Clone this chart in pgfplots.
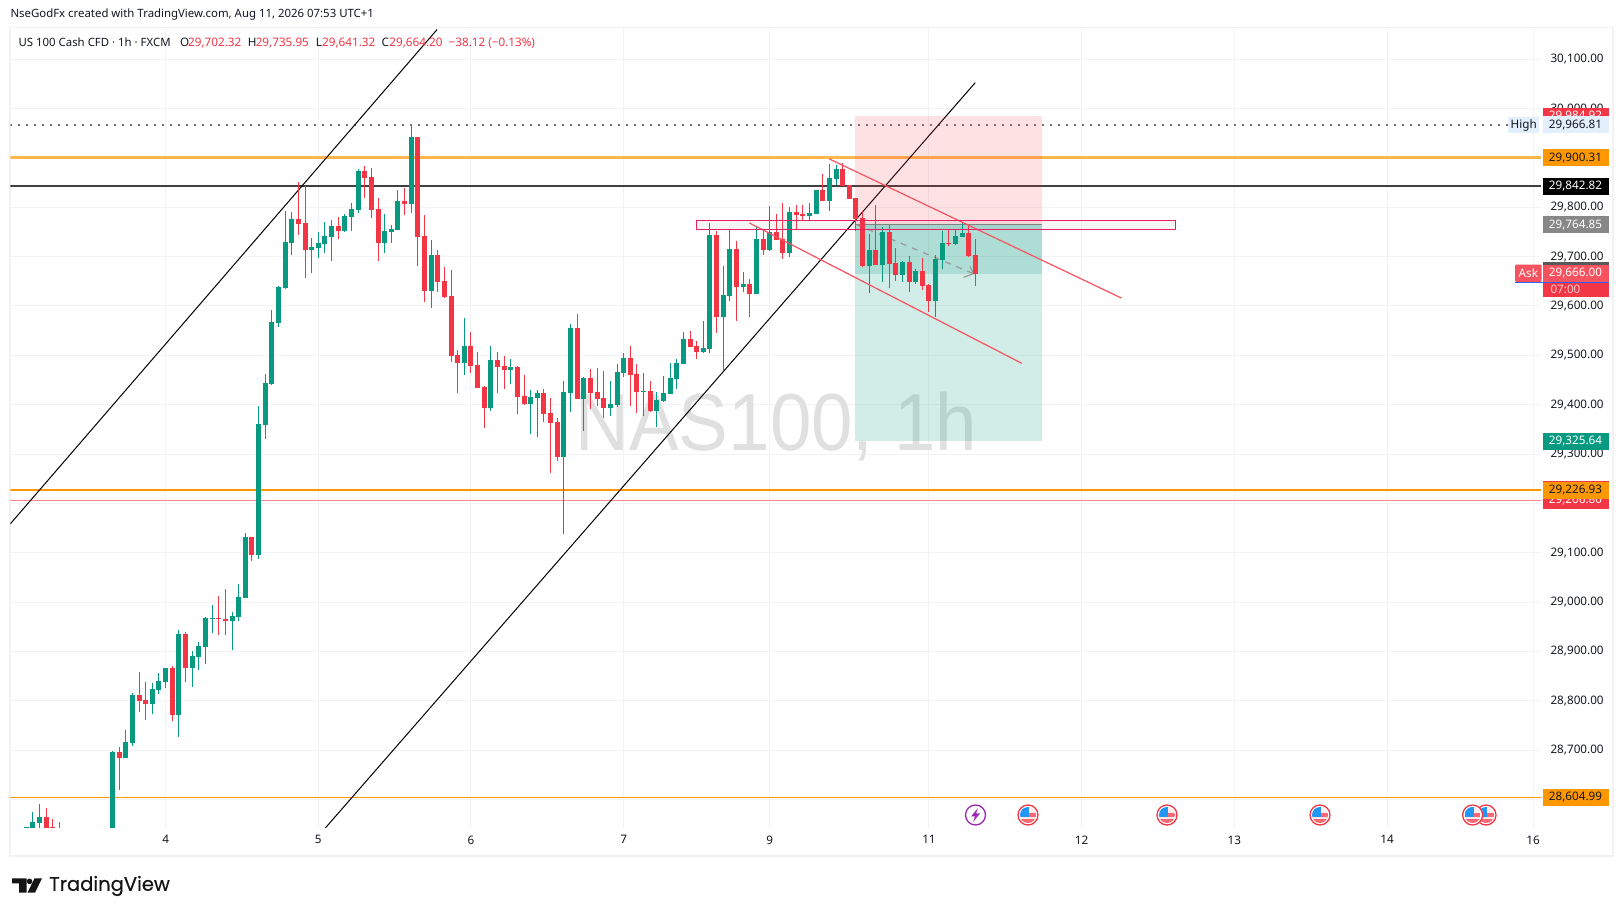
\documentclass[border=0pt]{standalone}
\usepackage{pgfplots}
\usepackage{pgfplotstable}
\usepackage{fontspec}
\pgfplotsset{compat=1.18}
\setmainfont{Noto Sans}
\newfontfamily\logofont[FakeBold=0.35]{Poppins}
\newfontfamily\wmfont{Liberation Sans}
\definecolor{up}{HTML}{089981}
\definecolor{dn}{HTML}{F23645}
\definecolor{gridc}{HTML}{F3F3F3}
\definecolor{framec}{HTML}{F2F2F2}
\definecolor{txt}{HTML}{131722}
\definecolor{orangeA}{HTML}{FF9800}
\definecolor{orangeL}{HTML}{FFB74D}
\definecolor{pinkl}{HTML}{F7525F}
\definecolor{pinkt}{HTML}{FF858F}
\definecolor{zone}{HTML}{E91E63}
\definecolor{hib}{HTML}{E3EFFD}
\definecolor{flagblue}{HTML}{2196F3}
\definecolor{askblue}{HTML}{2962FF}
\definecolor{bolt}{HTML}{9C27B0}
\newcommand\fnt{\fontsize{11.7}{14}\selectfont}
\newcommand\hfnt{\fontsize{11.4}{14}\selectfont}
% i open high low close
\pgfplotstableread{
i o h l c
-21 28500 28545 28480 28544
-20 28500 28575 28490 28555
-19 28553 28591 28530 28565
-8 28500 28698 28490 28697
-6 28684 28741 28684 28716
-5 28715 28816 28709 28812
-2 28793 28836 28773 28824
-1 28822 28856 28814 28840
0 28838 28866 28826 28866
2 28771 28943 28727 28935
4 28866 28901 28828 28891
5 28889 28919 28862 28911
6 28909 28970 28875 28968
7 28966 28994 28937 28968
10 28962 28980 28903 28972
11 28970 29037 28962 29010
12 29008 29140 29008 29132
14 29095 29397 29087 29360
15 29358 29462 29330 29443
16 29442 29592 29440 29567
17 29565 29640 29557 29638
18 29636 29792 29634 29729
19 29727 29790 29703 29776
22 29713 29737 29666 29719
23 29717 29749 29697 29727
24 29725 29770 29707 29741
25 29739 29774 29691 29762
27 29751 29786 29749 29782
28 29780 29808 29751 29796
29 29794 29877 29788 29873
33 29727 29786 29707 29751
34 29749 29764 29727 29755
35 29753 29836 29753 29812
37 29806 29967 29788 29942
40 29630 29733 29596 29703
45 29484 29576 29460 29519
49 29393 29519 29387 29490
52 29470 29493 29442 29476
55 29402 29430 29341 29416
56 29414 29430 29335 29424
60 29294 29448 29138 29426
61 29424 29563 29385 29555
63 29412 29456 29347 29454
67 29393 29448 29377 29401
68 29399 29482 29395 29466
69 29464 29505 29456 29495
72 29426 29464 29377 29428
74 29387 29426 29355 29410
75 29408 29458 29406 29424
76 29422 29484 29422 29454
77 29452 29493 29432 29484
78 29482 29547 29482 29533
81 29507 29569 29505 29515
82 29513 29768 29505 29744
84 29578 29681 29468 29622
85 29620 29754 29610 29715
87 29639 29669 29628 29645
89 29624 29762 29624 29736
91 29713 29802 29711 29750
94 29707 29800 29699 29790
97 29782 29808 29774 29788
98 29786 29835 29786 29835
100 29812 29887 29792 29859
101 29857 29885 29845 29877
106 29681 29746 29626 29713
108 29683 29760 29649 29750
111 29663 29691 29649 29689
113 29649 29675 29645 29671
116 29610 29703 29578 29695
117 29693 29752 29675 29728
119 29726 29754 29724 29742
120 29740 29770 29740 29748
}\upbars
\pgfplotstableread{
i o h l c
-18 28565 28583 28500 28510
-17 28544 28561 28530 28543
-16 28535 28555 28510 28520
-7 28696 28706 28619 28684
-4 28811 28858 28777 28799
-3 28801 28838 28761 28793
1 28866 28870 28759 28771
3 28935 28939 28838 28866
8 28968 29012 28933 28966
9 28966 29026 28933 28962
13 29132 29132 29083 29095
20 29776 29851 29744 29766
21 29768 29843 29657 29713
26 29762 29780 29736 29752
30 29873 29883 29819 29859
31 29861 29879 29778 29794
32 29796 29819 29691 29727
36 29812 29839 29784 29806
38 29942 29942 29681 29740
39 29742 29784 29608 29630
41 29703 29713 29628 29649
42 29651 29679 29616 29618
43 29620 29673 29487 29499
44 29501 29511 29424 29485
46 29519 29548 29465 29479
47 29481 29507 29434 29434
48 29436 29438 29353 29394
50 29491 29507 29424 29477
51 29479 29499 29432 29471
53 29477 29479 29382 29416
54 29418 29461 29400 29402
57 29424 29432 29365 29382
58 29384 29414 29262 29363
59 29365 29373 29286 29294
62 29555 29584 29412 29412
64 29454 29473 29392 29424
65 29426 29475 29398 29412
66 29414 29469 29373 29393
70 29495 29519 29398 29461
71 29463 29483 29384 29426
73 29428 29448 29385 29387
79 29533 29550 29517 29517
80 29519 29529 29493 29507
83 29744 29752 29545 29578
86 29715 29732 29570 29639
88 29645 29655 29578 29624
90 29736 29754 29703 29713
92 29750 29786 29733 29733
93 29736 29808 29696 29707
95 29790 29804 29756 29784
96 29786 29804 29772 29782
99 29835 29867 29812 29812
102 29877 29889 29843 29843
103 29845 29845 29817 29817
104 29819 29819 29752 29776
105 29778 29792 29679 29681
107 29713 29805 29683 29683
109 29750 29764 29637 29685
110 29687 29718 29651 29663
112 29689 29701 29629 29649
114 29671 29697 29633 29641
115 29643 29645 29588 29610
118 29728 29754 29722 29726
121 29748 29764 29699 29701
122 29703 29736 29641 29664
}\downbars
% price tag on the price scale
\newcommand\ptag[4]{\node[fill=#2,text=#3,minimum width=66pt,minimum height=17pt,inner sep=0pt,font=\fnt] at (axis cs:212.4,#1) {#4};}
\newcommand\usflag[2]{%
 \begin{scope}[shift={(#1pt,#2pt)}]
  \fill[white] (0,0) circle (10.5pt);
  \begin{scope}
   \clip (0,0) circle (8pt);
   \fill[dn!75] (-8pt,-8pt) rectangle (8pt,-4.5pt);
   \fill[dn!75] (0pt,-2.2pt) rectangle (8pt,2.2pt);
   \fill[dn!12] (-8pt,-4.5pt) rectangle (8pt,-2.2pt);
   \fill[dn!10] (0pt,2.2pt) rectangle (8pt,8pt);
   \fill[flagblue] (-8pt,-2.2pt) rectangle (1pt,8pt);
  \end{scope}
  \draw[dn,line width=1.3pt] (0,0) circle (10pt);
 \end{scope}}
\begin{document}
\begin{tikzpicture}[x=1pt,y=1pt]
\useasboundingbox (0,0) rectangle (1623,916);
\fill[white] (0,0) rectangle (1623,916);
\draw[framec,line width=1.8pt] (10.3,60) rectangle (1612.7,888.5);
\begin{axis}[
  at={(10.3pt,88pt)},anchor=south west,
  scale only axis,width=1530.7pt,height=800pt,
  xmin=-23.4,xmax=207.2,ymin=28542.3,ymax=30163.3,
  axis line style={draw=none},
  major tick length=0pt,
  grid=major,major grid style={gridc,line width=1pt},
  xtick={0,23,46,69,91,115,138,161,184,206},
  xticklabels={4,5,6,7,9,11,12,13,14,16},
  ytick={28600,28700,28800,28900,29000,29100,29200,29300,29400,29500,29600,29700,29800,29900,30000,30100},
  yticklabel pos=right,
  y tick label style={font=\fnt,text=txt,anchor=west,xshift=6pt,
    /pgf/number format/.cd,fixed,fixed zerofill,precision=2,1000 sep={,},assume math mode=true},
  x tick label style={font=\fnt,text=txt,yshift=-4pt},
  scaled y ticks=false,
  after end axis/.code={
    \node[fill=dn,text=white,minimum width=66pt,minimum height=17pt,inner sep=0pt,font=\fnt] at (axis cs:212.4,29984.92) {29,984.92};
    \ptag{29966.81}{hib}{txt}{29,966.81}
    \node[fill=hib,text=txt,minimum width=31pt,minimum height=15.5pt,inner sep=0pt,font=\fnt] at (axis cs:204.6,29966.81) {High};
    \ptag{29900.31}{orangeA}{txt}{29,900.31}
    \ptag{29842.82}{black}{white}{29,842.82}
    \ptag{29764.85}{black!47}{white}{29,764.85}
    \fill[black!65] (axis cs:207.45,29689) rectangle (axis cs:217.4,29684);
    \fill[pinkl] (axis cs:207.45,29684) rectangle (axis cs:217.4,29648);
    \fill[dn] (axis cs:207.45,29648) rectangle (axis cs:217.4,29619);
    \node[text=white,font=\fnt,inner sep=0pt] at (axis cs:212.4,29667) {29,666.00};
    \node[text=white!75!dn,font=\fnt,inner sep=0pt,anchor=west] at (axis cs:208.6,29634) {07:00};
    \fill[pinkl,rounded corners=1pt] (axis cs:203.3,29684) rectangle (axis cs:207.3,29649);
    \node[text=white,font=\fnt,inner sep=0pt] at (axis cs:205.3,29667) {Ask};
    \draw[askblue,line width=1pt] (axis cs:203.3,29648) -- (axis cs:217.4,29648);
    \ptag{29325.64}{up}{white}{29,325.64}
    \fill[dn] (axis cs:207.45,29245) rectangle (axis cs:217.4,29205);
    \node[fill=dn,text=white,minimum width=66pt,minimum height=17pt,inner sep=0pt,font=\fnt] at (axis cs:212.4,29206.8) {29,206.80};
    \ptag{29226.93}{orangeA}{txt}{29,226.93}
    \ptag{28604.99}{orangeA}{txt}{28,604.99}
  },
]
% watermark under the bars
\node[text=black!12,inner sep=0pt] at (axis cs:92,29357) {\scalebox{0.92}[1]{\wmfont\fontsize{81}{81}\selectfont NAS100, 1h}};
% horizontal levels
\addplot[orangeL,line width=3pt,forget plot] coordinates {(-23.4,29900.31)(207.2,29900.31)};
\addplot[black!75,line width=2pt,forget plot] coordinates {(-23.4,29842.82)(207.2,29842.82)};
\addplot[orangeA,line width=1.8pt,forget plot] coordinates {(-23.4,29226.93)(207.2,29226.93)};
\addplot[pinkt,line width=1pt,forget plot] coordinates {(-23.4,29206.8)(207.2,29206.8)};
\addplot[orangeA,line width=0.9pt,forget plot] coordinates {(-23.4,28604.99)(207.2,28604.99)};
\addplot[black!55,line width=1.7pt,dash pattern=on 2pt off 6pt,forget plot] coordinates {(-23.4,29966.81)(202.3,29966.81)};
% trend lines
\addplot[black,line width=1pt,forget plot] coordinates {(-23.4,29158.5)(40.9,30160.3)};
\addplot[black,line width=1pt,forget plot] coordinates {(20.25,28483.5)(121.97,30052.5)};
% position tool
\addplot[draw=none,fill=dn,fill opacity=.15,forget plot] coordinates {(103.87,29984.92)(131.96,29984.92)(131.96,29764.85)(103.87,29764.85)} -- cycle;
\addplot[draw=none,fill=up,fill opacity=.18,forget plot] coordinates {(103.87,29764.85)(131.96,29764.85)(131.96,29325.64)(103.87,29325.64)} -- cycle;
\addplot[draw=none,fill=up,fill opacity=.18,forget plot] coordinates {(103.87,29764.85)(131.96,29764.85)(131.96,29665)(103.87,29665)} -- cycle;
\addplot[black!47,line width=1.5pt,forget plot] coordinates {(103.87,29764.85)(131.96,29764.85)};
\addplot[black!40,line width=1.2pt,dash pattern=on 6pt off 6pt,forget plot] coordinates {(104.1,29764.85)(121.7,29665.5)};
\addplot[black!40,line width=1.2pt,forget plot] coordinates {(120.2,29658)(121.7,29665.5)(121.2,29680)};
% zone
\addplot[draw=none,fill=black,fill opacity=.045,forget plot] coordinates {(80,29773.4)(152.1,29773.4)(152.1,29755)(80,29755)} -- cycle;
% candles: wicks, then bodies
\addplot[draw=none,forget plot,error bars/.cd,y dir=plus,y explicit,error mark=none,error bar style={draw=up,line width=1pt}]
  table[x=i,y=l,y error expr=\thisrow{h}-\thisrow{l}] {\upbars};
\addplot[draw=none,forget plot,error bars/.cd,y dir=plus,y explicit,error mark=none,error bar style={draw=up,line width=5pt}]
  table[x=i,y=o,y error expr=\thisrow{c}-\thisrow{o}] {\upbars};
\addplot[draw=none,forget plot,error bars/.cd,y dir=plus,y explicit,error mark=none,error bar style={draw=dn,line width=1pt}]
  table[x=i,y=l,y error expr=\thisrow{h}-\thisrow{l}] {\downbars};
\addplot[draw=none,forget plot,error bars/.cd,y dir=plus,y explicit,error mark=none,error bar style={draw=dn,line width=5pt}]
  table[x=i,y=c,y error expr=\thisrow{o}-\thisrow{c}] {\downbars};
% channel and zone outline above the bars
\addplot[pinkl,line width=1.2pt,forget plot] coordinates {(100,29897.9)(144,29616)};
\addplot[pinkl,line width=1.2pt,forget plot] coordinates {(87.95,29768.2)(129,29483.7)};
\addplot[zone,line width=1.2pt,forget plot] coordinates {(80,29773.4)(152.1,29773.4)(152.1,29755)(80,29755)(80,29773.4)};
\end{axis}
% header
\node[anchor=west,inner sep=0pt,text=txt,font=\hfnt] at (10.3,901) {NseGodFx created with TradingView.com, Aug 11, 2026 07:53 UTC+1};
\node[anchor=west,inner sep=0pt,text=txt,font=\hfnt] at (18.4,873.3) {US 100 Cash CFD · 1h · FXCM};
\node[anchor=west,inner sep=0pt,text=txt,font=\fnt] at (180,873.3) {O};
\node[anchor=west,inner sep=0pt,text=dn,font=\fnt] at (188,873.3) {29,702.32};
\node[anchor=west,inner sep=0pt,text=txt,font=\fnt] at (247.6,873.3) {H};
\node[anchor=west,inner sep=0pt,text=dn,font=\fnt] at (255.6,873.3) {29,735.95};
\node[anchor=west,inner sep=0pt,text=txt,font=\fnt] at (315.7,873.3) {L};
\node[anchor=west,inner sep=0pt,text=dn,font=\fnt] at (322,873.3) {29,641.32};
\node[anchor=west,inner sep=0pt,text=txt,font=\fnt] at (381.5,873.3) {C};
\node[anchor=west,inner sep=0pt,text=dn,font=\fnt] at (389.2,873.3) {29,664.20};
\node[anchor=west,inner sep=0pt,text=dn,font=\fnt] at (448.5,873.3) {−38.12 (−0.13\%)};
% event icons
\fill[white] (975.5,101) circle (10.5);
\draw[bolt,line width=1.3pt] (975.5,101) circle (10);
\fill[bolt] (978,108) -- (971,99.5) -- (975,99.5) -- (973,94) -- (980,102.5) -- (976,102.5) -- cycle;
\usflag{1486}{101}
\usflag{1472.6}{101}
\usflag{1028}{101}
\usflag{1167}{101}
\usflag{1320}{101}
% logo
\fill[black!92] (12,37.7) -- (26.7,37.7) -- (26.7,23.3) -- (19,23.3) -- (19,32.5) -- (12,32.5) -- cycle;
\fill[black!92] (29.5,34.6) circle (2.8);
\fill[black!92] (34.5,37.7) -- (42,37.7) -- (35,23.3) -- (27.5,23.3) -- cycle;
\node[anchor=west,inner sep=0pt,text=black!92] at (49,30) {\logofont\fontsize{19.5}{20}\selectfont TradingView};
\end{tikzpicture}
\end{document}
